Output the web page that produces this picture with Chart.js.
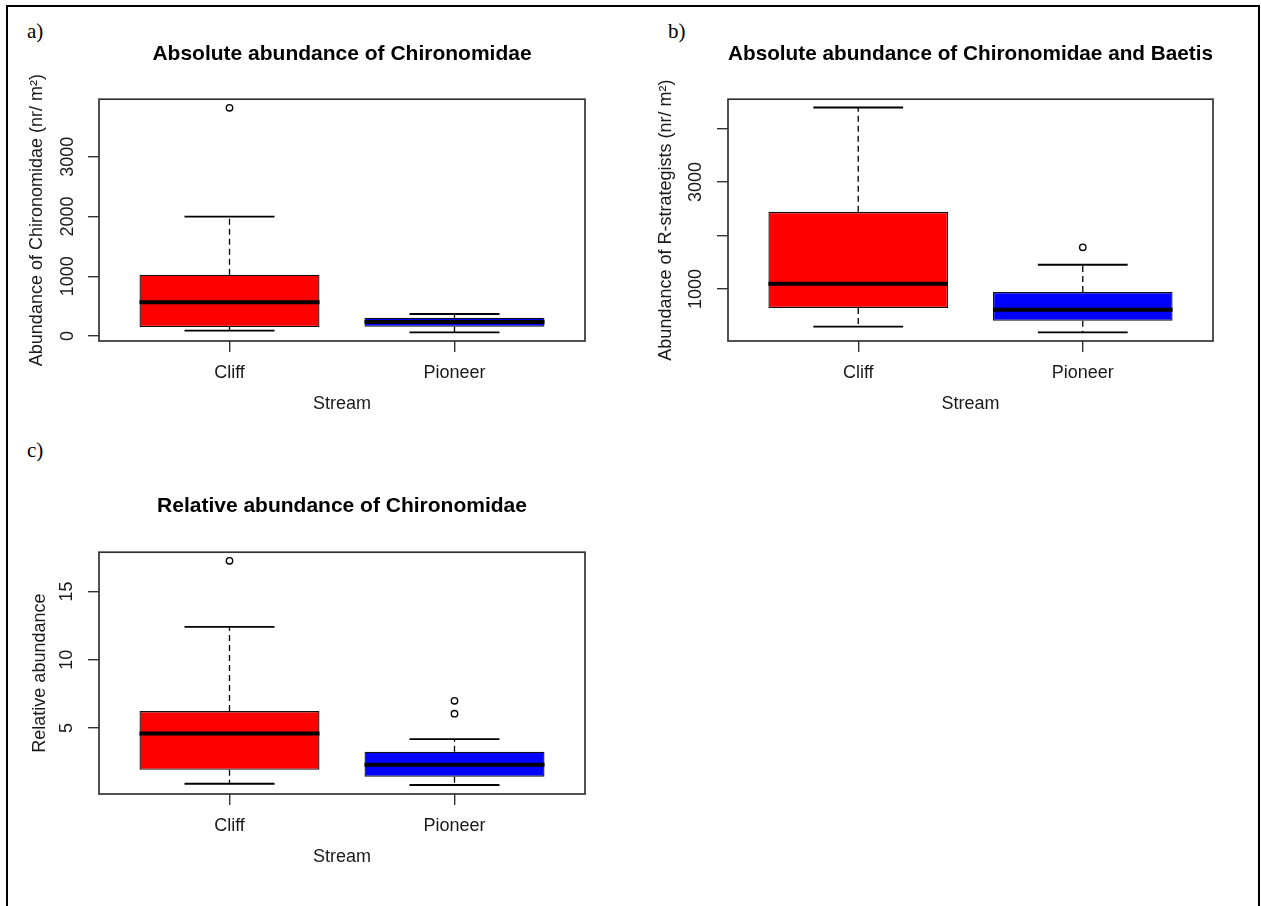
<!DOCTYPE html>
<html>
<head>
<meta charset="utf-8">
<script src="https://cdn.jsdelivr.net/npm/chart.js@4.4.1/dist/chart.umd.min.js"></script>
<style>
  body { margin: 0; background: #fff; }
  #page { position: relative; width: 1261px; height: 906px; overflow: hidden; background: #fff; }
  #frame { position: absolute; left: 6px; top: 5px; width: 1250px; height: 920px;
           border: 2px solid #000; border-bottom: none; }
  canvas { position: absolute; }
  .tag { position: absolute; font-family: "Liberation Serif", "Times New Roman", serif;
         font-size: 21px; line-height: 1; color: #000; }
</style>
</head>
<body>
<div id="page">
  <div id="frame"></div>
  <div class="tag" style="left:27px; top:21px;">a)</div>
  <div class="tag" style="left:668px; top:21px;">b)</div>
  <div class="tag" style="left:27px; top:440px;">c)</div>
  <canvas id="chart-a" width="630" height="430" style="left:0; top:0;"></canvas>
  <canvas id="chart-b" width="631" height="430" style="left:630px; top:0;"></canvas>
  <canvas id="chart-c" width="630" height="476" style="left:0; top:430px;"></canvas>
</div>
<script>
'use strict';

var streams = ['Cliff', 'Pioneer'];

// a) absolute abundance of Chironomidae (nr/m2)
var absMin = [89, 62];
var absQ1 = [150, 155];
var absMedian = [563, 234];
var absQ3 = [1025, 306];
var absMax = [2000, 368];
var absOutliers = [[3820], []];
var absTicks = [0, 1000, 2000, 3000];
var absTickLabels = ['0', '1000', '2000', '3000'];

// b) Chironomidae + Baetis (R-strategists)
var rMin = [296, 191];
var rQ1 = [645, 408];
var rMedian = [1099, 613];
var rQ3 = [2443, 944];
var rMax = [4393, 1454];
var rOutliers = [[], [1779]];
var rTicks = [1000, 2000, 3000, 4000];
var rTickLabels = ['1000', '', '3000', ''];

// c) relative abundance of Chironomidae
var relMin = [0.92, 0.83];
var relQ1 = [1.94, 1.43];
var relMedian = [4.59, 2.31];
var relQ3 = [6.24, 3.26];
var relMax = [12.41, 4.18];
var relOutliers = [[17.24], [6.05, 6.99]];
var relTicks = [5, 10, 15];
var relTickLabels = ['5', '10', '15'];

var boxColors = ['#ff0000', '#0000ff'];
var FONT = '"Liberation Sans", Arial, sans-serif';
var INK = '#1a1a1a';

// whiskers, staples, medians and outlier circles on top of the boxes
var boxPlot = {
    id: 'boxPlot',
    afterDatasetsDraw: function (chart, args, opts) {
        var ctx = chart.ctx;
        var xs = chart.scales.x, ys = chart.scales.y;
        var bars = chart.getDatasetMeta(0).data;
        ctx.save();
        ctx.strokeStyle = '#000';
        bars.forEach(function (bar, i) {
            var cx = xs.getPixelForValue(i + 1);
            var half = bar.width / 2;
            var staple = half / 2;
            var yMin = ys.getPixelForValue(opts.min[i]);
            var yMax = ys.getPixelForValue(opts.max[i]);
            var yQ1 = ys.getPixelForValue(opts.q1[i]);
            var yQ3 = ys.getPixelForValue(opts.q3[i]);
            var yMed = ys.getPixelForValue(opts.median[i]);

            ctx.lineWidth = 1.3;
            ctx.setLineDash([6, 4]);
            ctx.beginPath();
            ctx.moveTo(cx, yQ3); ctx.lineTo(cx, yMax);
            ctx.moveTo(cx, yQ1); ctx.lineTo(cx, yMin);
            ctx.stroke();

            ctx.setLineDash([]);
            ctx.lineWidth = 1.8;
            ctx.beginPath();
            ctx.moveTo(cx - staple, yMax); ctx.lineTo(cx + staple, yMax);
            ctx.moveTo(cx - staple, yMin); ctx.lineTo(cx + staple, yMin);
            ctx.stroke();

            ctx.lineWidth = 4;
            ctx.beginPath();
            ctx.moveTo(cx - half, yMed); ctx.lineTo(cx + half, yMed);
            ctx.stroke();

            ctx.lineWidth = 1.4;
            opts.outliers[i].forEach(function (v) {
                ctx.beginPath();
                ctx.arc(cx, ys.getPixelForValue(v), 3.2, 0, Math.PI * 2);
                ctx.stroke();
            });
        });
        ctx.restore();
    }
};

// box around the plotting region
var plotFrame = {
    id: 'plotFrame',
    afterDraw: function (chart) {
        var a = chart.chartArea, ctx = chart.ctx;
        ctx.save();
        ctx.strokeStyle = '#333';
        ctx.lineWidth = 1.7;
        ctx.strokeRect(a.left, a.top, a.right - a.left, a.bottom - a.top);
        ctx.restore();
    }
};

function makeBoxChart(id, cfg) {
    var data = streams.map(function (s, i) {
        return { x: i + 1, y: [cfg.q1[i], cfg.q3[i]] };
    });
    return new Chart(document.getElementById(id), {
        type: 'bar',
        data: {
            datasets: [{
                data: data,
                backgroundColor: boxColors,
                borderColor: '#111',
                borderWidth: 1.3,
                borderSkipped: false,
                categoryPercentage: 1,
                barPercentage: 0.8
            }]
        },
        plugins: [boxPlot, plotFrame],
        options: {
            responsive: false,
            animation: false,
            events: [],
            layout: { padding: cfg.padding },
            plugins: {
                legend: { display: false },
                tooltip: { enabled: false },
                title: {
                    display: true,
                    text: cfg.title,
                    fullSize: false,
                    color: '#000',
                    font: { family: FONT, size: 21, weight: 'bold' },
                    padding: cfg.titlePadding
                },
                boxPlot: {
                    min: cfg.min, q1: cfg.q1, median: cfg.median,
                    q3: cfg.q3, max: cfg.max, outliers: cfg.outliers
                }
            },
            scales: {
                x: {
                    type: 'linear',
                    min: 0.42,
                    max: 2.58,
                    offset: false,
                    afterFit: function (scale) { scale.height = 89; },
                    afterBuildTicks: function (scale) {
                        scale.ticks = streams.map(function (s, i) { return { value: i + 1 }; });
                    },
                    ticks: {
                        padding: 10,
                        color: INK,
                        font: { family: FONT, size: 18 },
                        callback: function (v) { return streams[v - 1]; }
                    },
                    grid: { offset: false, drawOnChartArea: false, tickLength: 11, color: '#333', lineWidth: 1.4 },
                    border: { display: false },
                    title: {
                        display: true,
                        text: 'Stream',
                        color: INK,
                        font: { family: FONT, size: 18 },
                        padding: { top: 0, bottom: 15 }
                    }
                },
                y: {
                    min: cfg.yMin,
                    max: cfg.yMax,
                    afterFit: function (scale) { scale.width = cfg.yWidth; },
                    afterBuildTicks: function (scale) {
                        scale.ticks = cfg.ticks.map(function (v) { return { value: v }; });
                    },
                    ticks: {
                        minRotation: 90,
                        maxRotation: 90,
                        crossAlign: 'center',
                        padding: cfg.tickPad,
                        color: INK,
                        font: { family: FONT, size: 18 },
                        callback: function (v, idx) { return cfg.tickLabels[idx]; }
                    },
                    grid: { drawOnChartArea: false, tickLength: 11, color: '#333', lineWidth: 1.4 },
                    border: { display: false },
                    title: {
                        display: true,
                        text: cfg.yTitle,
                        color: INK,
                        font: { family: FONT, size: 18 },
                        padding: { top: cfg.yTitlePad, bottom: 0 }
                    }
                }
            }
        }
    });
}

makeBoxChart('chart-a', {
    title: 'Absolute abundance of Chironomidae',
    yTitle: 'Abundance of Chironomidae (nr/ m\u00b2)',
    min: absMin, q1: absQ1, median: absMedian, q3: absQ3, max: absMax, outliers: absOutliers,
    ticks: absTicks, tickLabels: absTickLabels,
    yMin: -84, yMax: 3965, yWidth: 99, tickPad: 0, yTitlePad: 26,
    padding: { left: 0, top: 0, right: 45, bottom: 0 },
    titlePadding: { top: 42, bottom: 32 }
});

makeBoxChart('chart-b', {
    title: 'Absolute abundance of Chironomidae and Baetis',
    yTitle: 'Abundance of R-strategists (nr/ m\u00b2)',
    min: rMin, q1: rQ1, median: rMedian, q3: rQ3, max: rMax, outliers: rOutliers,
    ticks: rTicks, tickLabels: rTickLabels,
    yMin: 29, yMax: 4548, yWidth: 98, tickPad: 1, yTitlePad: 25,
    padding: { left: 0, top: 0, right: 48, bottom: 0 },
    titlePadding: { top: 42, bottom: 32 }
});

makeBoxChart('chart-c', {
    title: 'Relative abundance of Chironomidae',
    yTitle: 'Relative abundance',
    min: relMin, q1: relQ1, median: relMedian, q3: relQ3, max: relMax, outliers: relOutliers,
    ticks: relTicks, tickLabels: relTickLabels,
    yMin: 0.17, yMax: 17.87, yWidth: 99, tickPad: 11, yTitlePad: 29,
    padding: { left: 0, top: 0, right: 45, bottom: 23 },
    titlePadding: { top: 64, bottom: 33 }
});
</script>
</body>
</html>
